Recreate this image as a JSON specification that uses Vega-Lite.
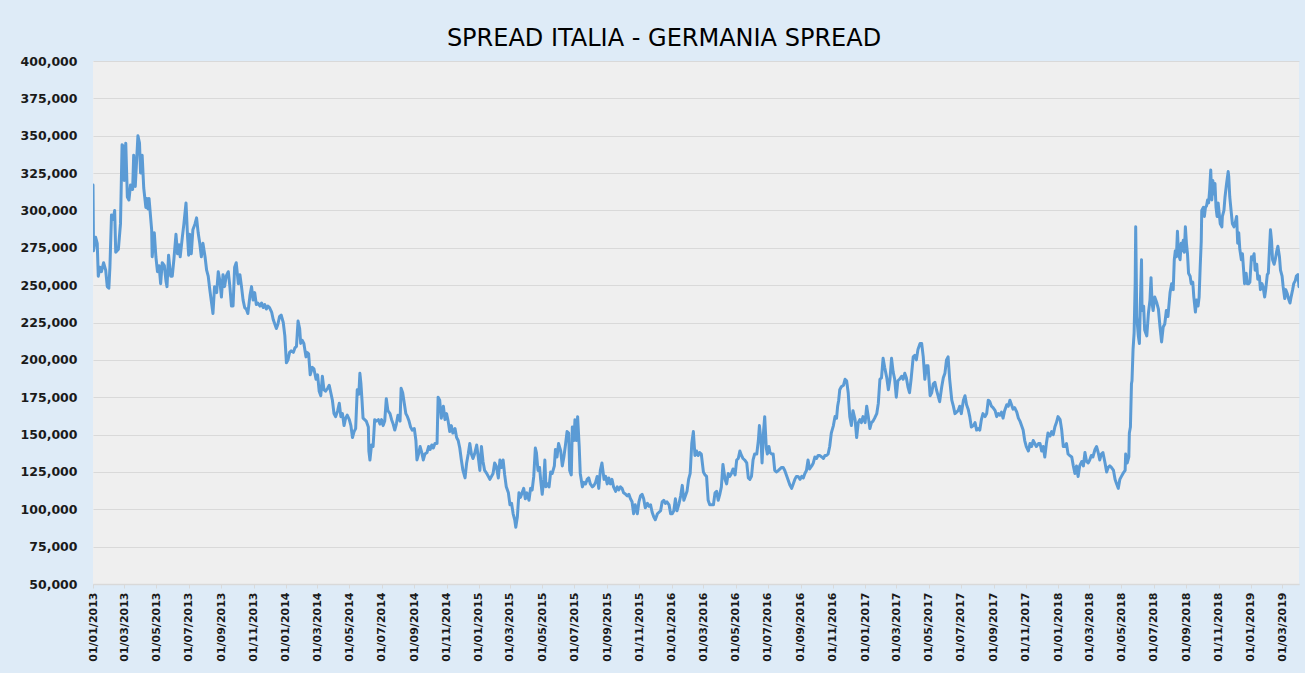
{
"$schema": "https://vega.github.io/schema/vega-lite/v6.json",
"width": 1206,
"height": 523,
"autosize": {"type": "none"},
"padding": {"left": 93, "top": 61, "right": 6, "bottom": 89},
"background": "#DEEBF7",
"title": {"text": "SPREAD ITALIA - GERMANIA SPREAD", "anchor": "middle", "dx": -32, "dy": 23, "font": "DejaVu Sans", "fontSize": 24, "fontWeight": "normal", "color": "#000000", "baseline": "alphabetic", "offset": 8},
"config": {"view": {"fill": "#EFEFEF", "stroke": null}},
"data": {"values": [
{"d":"2013-01-01","v":317},{"d":"2013-01-02","v":273},{"d":"2013-01-06","v":282},{"d":"2013-01-09","v":278},{"d":"2013-01-11","v":256},{"d":"2013-01-14","v":262},{"d":"2013-01-17","v":259},{"d":"2013-01-21","v":265},{"d":"2013-01-25","v":260},{"d":"2013-01-28","v":249},{"d":"2013-01-31","v":248},
{"d":"2013-02-02","v":262},{"d":"2013-02-05","v":297},{"d":"2013-02-08","v":294},{"d":"2013-02-11","v":300},{"d":"2013-02-13","v":272},{"d":"2013-02-18","v":274},{"d":"2013-02-22","v":291},{"d":"2013-02-25","v":344},{"d":"2013-02-27","v":343},
{"d":"2013-03-01","v":320},{"d":"2013-03-04","v":345},{"d":"2013-03-07","v":309},{"d":"2013-03-10","v":307},{"d":"2013-03-13","v":317},{"d":"2013-03-17","v":314},{"d":"2013-03-19","v":337},{"d":"2013-03-22","v":316},{"d":"2013-03-27","v":350},{"d":"2013-03-30","v":345},
{"d":"2013-04-01","v":325},{"d":"2013-04-04","v":337},{"d":"2013-04-07","v":315},{"d":"2013-04-11","v":302},{"d":"2013-04-13","v":308},{"d":"2013-04-15","v":301},{"d":"2013-04-17","v":308},{"d":"2013-04-22","v":287},{"d":"2013-04-23","v":269},{"d":"2013-04-27","v":285},{"d":"2013-04-30","v":269},
{"d":"2013-05-03","v":259},{"d":"2013-05-06","v":263},{"d":"2013-05-09","v":251},{"d":"2013-05-12","v":265},{"d":"2013-05-16","v":263},{"d":"2013-05-19","v":253},{"d":"2013-05-21","v":249},{"d":"2013-05-24","v":270},{"d":"2013-05-28","v":256},{"d":"2013-05-31","v":256},
{"d":"2013-06-03","v":267},{"d":"2013-06-07","v":284},{"d":"2013-06-10","v":271},{"d":"2013-06-13","v":277},{"d":"2013-06-15","v":269},{"d":"2013-06-19","v":282},{"d":"2013-06-22","v":291},{"d":"2013-06-26","v":305},{"d":"2013-06-29","v":282},
{"d":"2013-07-01","v":270},{"d":"2013-07-03","v":284},{"d":"2013-07-06","v":271},{"d":"2013-07-09","v":287},{"d":"2013-07-13","v":291},{"d":"2013-07-16","v":295},{"d":"2013-07-19","v":285},{"d":"2013-07-22","v":278},{"d":"2013-07-25","v":269},{"d":"2013-07-28","v":278},
{"d":"2013-08-01","v":269},{"d":"2013-08-04","v":260},{"d":"2013-08-07","v":256},{"d":"2013-08-10","v":247},{"d":"2013-08-13","v":239},{"d":"2013-08-16","v":231},{"d":"2013-08-19","v":249},{"d":"2013-08-23","v":245},{"d":"2013-08-26","v":259},{"d":"2013-08-29","v":253},
{"d":"2013-09-01","v":242},{"d":"2013-09-04","v":257},{"d":"2013-09-07","v":249},{"d":"2013-09-10","v":256},{"d":"2013-09-14","v":259},{"d":"2013-09-17","v":249},{"d":"2013-09-20","v":236},{"d":"2013-09-23","v":236},{"d":"2013-09-26","v":262},{"d":"2013-09-29","v":265},
{"d":"2013-10-03","v":251},{"d":"2013-10-06","v":257},{"d":"2013-10-09","v":249},{"d":"2013-10-12","v":240},{"d":"2013-10-15","v":235},{"d":"2013-10-18","v":234},{"d":"2013-10-21","v":231},{"d":"2013-10-25","v":243},{"d":"2013-10-28","v":249},{"d":"2013-10-31","v":240},
{"d":"2013-11-03","v":245},{"d":"2013-11-06","v":237},{"d":"2013-11-09","v":238},{"d":"2013-11-13","v":236},{"d":"2013-11-16","v":238},{"d":"2013-11-19","v":235},{"d":"2013-11-22","v":237},{"d":"2013-11-25","v":234},{"d":"2013-11-28","v":236},
{"d":"2013-12-01","v":235},{"d":"2013-12-05","v":232},{"d":"2013-12-08","v":227},{"d":"2013-12-11","v":224},{"d":"2013-12-14","v":221},{"d":"2013-12-17","v":224},{"d":"2013-12-20","v":229},{"d":"2013-12-23","v":230},{"d":"2013-12-27","v":225},{"d":"2013-12-30","v":216},
{"d":"2014-01-02","v":198},{"d":"2014-01-05","v":200},{"d":"2014-01-08","v":205},{"d":"2014-01-11","v":206},{"d":"2014-01-15","v":205},{"d":"2014-01-18","v":208},{"d":"2014-01-21","v":209},{"d":"2014-01-24","v":226},{"d":"2014-01-27","v":221},{"d":"2014-01-29","v":211},
{"d":"2014-02-01","v":213},{"d":"2014-02-04","v":211},{"d":"2014-02-08","v":202},{"d":"2014-02-10","v":205},{"d":"2014-02-13","v":204},{"d":"2014-02-16","v":190},{"d":"2014-02-20","v":195},{"d":"2014-02-23","v":194},{"d":"2014-02-27","v":187},
{"d":"2014-03-02","v":190},{"d":"2014-03-05","v":179},{"d":"2014-03-08","v":176},{"d":"2014-03-11","v":189},{"d":"2014-03-14","v":180},{"d":"2014-03-17","v":179},{"d":"2014-03-21","v":181},{"d":"2014-03-24","v":183},{"d":"2014-03-27","v":178},{"d":"2014-03-30","v":173},
{"d":"2014-04-02","v":164},{"d":"2014-04-05","v":162},{"d":"2014-04-09","v":166},{"d":"2014-04-12","v":171},{"d":"2014-04-15","v":162},{"d":"2014-04-18","v":164},{"d":"2014-04-21","v":156},{"d":"2014-04-24","v":161},{"d":"2014-04-27","v":163},
{"d":"2014-05-01","v":160},{"d":"2014-05-04","v":156},{"d":"2014-05-07","v":148},{"d":"2014-05-10","v":152},{"d":"2014-05-13","v":154},{"d":"2014-05-16","v":180},{"d":"2014-05-19","v":177},{"d":"2014-05-21","v":191},{"d":"2014-05-23","v":184},{"d":"2014-05-25","v":173},{"d":"2014-05-27","v":161},{"d":"2014-05-30","v":160},
{"d":"2014-06-02","v":159},{"d":"2014-06-06","v":155},{"d":"2014-06-07","v":139},{"d":"2014-06-09","v":133},{"d":"2014-06-12","v":143},{"d":"2014-06-15","v":142},{"d":"2014-06-18","v":160},{"d":"2014-06-21","v":159},{"d":"2014-06-25","v":160},{"d":"2014-06-28","v":157},
{"d":"2014-07-01","v":160},{"d":"2014-07-04","v":156},{"d":"2014-07-07","v":159},{"d":"2014-07-10","v":174},{"d":"2014-07-13","v":166},{"d":"2014-07-17","v":164},{"d":"2014-07-20","v":160},{"d":"2014-07-23","v":157},{"d":"2014-07-26","v":153},{"d":"2014-07-29","v":157},
{"d":"2014-08-01","v":163},{"d":"2014-08-05","v":159},{"d":"2014-08-07","v":181},{"d":"2014-08-10","v":178},{"d":"2014-08-13","v":171},{"d":"2014-08-16","v":164},{"d":"2014-08-19","v":162},{"d":"2014-08-22","v":159},{"d":"2014-08-25","v":155},{"d":"2014-08-28","v":153},
{"d":"2014-09-01","v":154},{"d":"2014-09-04","v":146},{"d":"2014-09-06","v":133},{"d":"2014-09-09","v":137},{"d":"2014-09-12","v":142},{"d":"2014-09-15","v":138},{"d":"2014-09-18","v":133},{"d":"2014-09-21","v":137},{"d":"2014-09-25","v":138},{"d":"2014-09-28","v":142},
{"d":"2014-10-01","v":140},{"d":"2014-10-04","v":143},{"d":"2014-10-07","v":141},{"d":"2014-10-10","v":144},{"d":"2014-10-14","v":144},{"d":"2014-10-16","v":175},{"d":"2014-10-19","v":173},{"d":"2014-10-22","v":161},{"d":"2014-10-26","v":169},{"d":"2014-10-29","v":160},
{"d":"2014-11-01","v":164},{"d":"2014-11-04","v":159},{"d":"2014-11-07","v":152},{"d":"2014-11-10","v":156},{"d":"2014-11-13","v":151},{"d":"2014-11-17","v":154},{"d":"2014-11-20","v":148},{"d":"2014-11-23","v":146},{"d":"2014-11-26","v":141},{"d":"2014-11-29","v":133},
{"d":"2014-12-02","v":126},{"d":"2014-12-06","v":121},{"d":"2014-12-09","v":131},{"d":"2014-12-12","v":137},{"d":"2014-12-15","v":144},{"d":"2014-12-18","v":137},{"d":"2014-12-21","v":134},{"d":"2014-12-24","v":137},{"d":"2014-12-28","v":143},{"d":"2014-12-31","v":135},
{"d":"2015-01-03","v":126},{"d":"2015-01-06","v":142},{"d":"2015-01-09","v":132},{"d":"2015-01-12","v":126},{"d":"2015-01-16","v":124},{"d":"2015-01-19","v":122},{"d":"2015-01-22","v":120},{"d":"2015-01-28","v":124},{"d":"2015-01-31","v":131},
{"d":"2015-02-03","v":129},{"d":"2015-02-07","v":121},{"d":"2015-02-10","v":133},{"d":"2015-02-13","v":128},{"d":"2015-02-16","v":133},{"d":"2015-02-19","v":123},{"d":"2015-02-22","v":115},{"d":"2015-02-26","v":111},
{"d":"2015-03-01","v":103},{"d":"2015-03-04","v":104},{"d":"2015-03-07","v":97},{"d":"2015-03-10","v":93},{"d":"2015-03-12","v":88},{"d":"2015-03-15","v":95},{"d":"2015-03-18","v":111},{"d":"2015-03-21","v":108},{"d":"2015-03-24","v":111},{"d":"2015-03-27","v":114},{"d":"2015-03-30","v":107},
{"d":"2015-04-02","v":111},{"d":"2015-04-06","v":106},{"d":"2015-04-09","v":114},{"d":"2015-04-12","v":113},{"d":"2015-04-15","v":122},{"d":"2015-04-18","v":141},{"d":"2015-04-20","v":138},{"d":"2015-04-23","v":126},{"d":"2015-04-26","v":128},{"d":"2015-04-28","v":120},
{"d":"2015-05-01","v":110},{"d":"2015-05-04","v":120},{"d":"2015-05-06","v":133},{"d":"2015-05-08","v":115},{"d":"2015-05-11","v":117},{"d":"2015-05-14","v":115},{"d":"2015-05-17","v":125},{"d":"2015-05-20","v":124},{"d":"2015-05-24","v":129},{"d":"2015-05-26","v":140},{"d":"2015-05-29","v":135},
{"d":"2015-06-01","v":144},{"d":"2015-06-05","v":139},{"d":"2015-06-08","v":129},{"d":"2015-06-11","v":135},{"d":"2015-06-14","v":143},{"d":"2015-06-17","v":152},{"d":"2015-06-20","v":151},{"d":"2015-06-22","v":126},{"d":"2015-06-25","v":123},{"d":"2015-06-27","v":155},{"d":"2015-06-30","v":146},
{"d":"2015-07-02","v":160},{"d":"2015-07-05","v":146},{"d":"2015-07-07","v":162},{"d":"2015-07-10","v":142},{"d":"2015-07-12","v":124},{"d":"2015-07-16","v":115},{"d":"2015-07-19","v":118},{"d":"2015-07-22","v":117},{"d":"2015-07-25","v":120},{"d":"2015-07-28","v":121},{"d":"2015-07-31","v":117},
{"d":"2015-08-04","v":115},{"d":"2015-08-07","v":116},{"d":"2015-08-10","v":118},{"d":"2015-08-13","v":122},{"d":"2015-08-16","v":114},{"d":"2015-08-19","v":126},{"d":"2015-08-22","v":131},{"d":"2015-08-26","v":120},{"d":"2015-08-29","v":122},
{"d":"2015-09-01","v":117},{"d":"2015-09-04","v":121},{"d":"2015-09-07","v":117},{"d":"2015-09-10","v":120},{"d":"2015-09-13","v":115},{"d":"2015-09-17","v":112},{"d":"2015-09-20","v":115},{"d":"2015-09-23","v":113},{"d":"2015-09-26","v":115},{"d":"2015-09-29","v":114},
{"d":"2015-10-02","v":111},{"d":"2015-10-06","v":110},{"d":"2015-10-09","v":109},{"d":"2015-10-12","v":110},{"d":"2015-10-15","v":107},{"d":"2015-10-18","v":105},{"d":"2015-10-21","v":97},{"d":"2015-10-24","v":103},{"d":"2015-10-28","v":97},{"d":"2015-10-31","v":105},
{"d":"2015-11-03","v":109},{"d":"2015-11-06","v":110},{"d":"2015-11-09","v":107},{"d":"2015-11-12","v":101},{"d":"2015-11-16","v":104},{"d":"2015-11-19","v":102},{"d":"2015-11-22","v":103},{"d":"2015-11-25","v":98},{"d":"2015-11-28","v":95},
{"d":"2015-12-01","v":93},{"d":"2015-12-05","v":97},{"d":"2015-12-08","v":98},{"d":"2015-12-11","v":99},{"d":"2015-12-14","v":105},{"d":"2015-12-17","v":106},{"d":"2015-12-20","v":104},{"d":"2015-12-23","v":105},{"d":"2015-12-27","v":103},{"d":"2015-12-30","v":97},
{"d":"2016-01-02","v":97},{"d":"2016-01-05","v":99},{"d":"2016-01-08","v":107},{"d":"2016-01-11","v":99},{"d":"2016-01-15","v":104},{"d":"2016-01-18","v":109},{"d":"2016-01-21","v":116},{"d":"2016-01-24","v":106},{"d":"2016-01-27","v":109},{"d":"2016-01-30","v":112},
{"d":"2016-02-02","v":120},{"d":"2016-02-05","v":124},{"d":"2016-02-08","v":144},{"d":"2016-02-11","v":152},{"d":"2016-02-14","v":136},{"d":"2016-02-17","v":139},{"d":"2016-02-20","v":136},{"d":"2016-02-23","v":138},{"d":"2016-02-26","v":137},
{"d":"2016-03-01","v":125},{"d":"2016-03-04","v":123},{"d":"2016-03-07","v":122},{"d":"2016-03-10","v":106},{"d":"2016-03-13","v":103},{"d":"2016-03-16","v":103},{"d":"2016-03-20","v":103},{"d":"2016-03-23","v":111},{"d":"2016-03-26","v":112},{"d":"2016-03-29","v":106},
{"d":"2016-04-01","v":110},{"d":"2016-04-04","v":115},{"d":"2016-04-07","v":130},{"d":"2016-04-11","v":120},{"d":"2016-04-14","v":117},{"d":"2016-04-17","v":124},{"d":"2016-04-20","v":122},{"d":"2016-04-23","v":124},{"d":"2016-04-26","v":127},{"d":"2016-04-30","v":123},
{"d":"2016-05-03","v":133},{"d":"2016-05-06","v":134},{"d":"2016-05-09","v":139},{"d":"2016-05-12","v":136},{"d":"2016-05-15","v":134},{"d":"2016-05-18","v":133},{"d":"2016-05-22","v":131},{"d":"2016-05-25","v":121},{"d":"2016-05-28","v":120},{"d":"2016-05-31","v":122},
{"d":"2016-06-03","v":133},{"d":"2016-06-06","v":137},{"d":"2016-06-10","v":137},{"d":"2016-06-13","v":146},{"d":"2016-06-15","v":156},{"d":"2016-06-18","v":146},{"d":"2016-06-20","v":131},{"d":"2016-06-23","v":153},{"d":"2016-06-25","v":162},{"d":"2016-06-28","v":141},{"d":"2016-06-30","v":137},
{"d":"2016-07-03","v":142},{"d":"2016-07-05","v":138},{"d":"2016-07-08","v":137},{"d":"2016-07-11","v":137},{"d":"2016-07-14","v":126},{"d":"2016-07-17","v":125},{"d":"2016-07-21","v":126},{"d":"2016-07-24","v":127},{"d":"2016-07-27","v":128},{"d":"2016-07-30","v":128},
{"d":"2016-08-02","v":126},{"d":"2016-08-05","v":123},{"d":"2016-08-08","v":120},{"d":"2016-08-12","v":116},{"d":"2016-08-15","v":114},{"d":"2016-08-18","v":117},{"d":"2016-08-21","v":120},{"d":"2016-08-24","v":122},{"d":"2016-08-27","v":122},{"d":"2016-08-31","v":120},
{"d":"2016-09-03","v":122},{"d":"2016-09-06","v":121},{"d":"2016-09-09","v":124},{"d":"2016-09-12","v":126},{"d":"2016-09-15","v":133},{"d":"2016-09-18","v":127},{"d":"2016-09-22","v":129},{"d":"2016-09-25","v":131},{"d":"2016-09-28","v":135},
{"d":"2016-10-01","v":134},{"d":"2016-10-04","v":136},{"d":"2016-10-07","v":136},{"d":"2016-10-11","v":135},{"d":"2016-10-14","v":134},{"d":"2016-10-17","v":136},{"d":"2016-10-20","v":136},{"d":"2016-10-23","v":137},{"d":"2016-10-26","v":142},{"d":"2016-10-29","v":151},
{"d":"2016-11-02","v":156},{"d":"2016-11-05","v":162},{"d":"2016-11-08","v":161},{"d":"2016-11-10","v":169},{"d":"2016-11-12","v":173},{"d":"2016-11-14","v":180},{"d":"2016-11-17","v":182},{"d":"2016-11-21","v":183},{"d":"2016-11-24","v":187},{"d":"2016-11-27","v":186},{"d":"2016-11-30","v":178},
{"d":"2016-12-03","v":162},{"d":"2016-12-06","v":156},{"d":"2016-12-09","v":166},{"d":"2016-12-13","v":160},{"d":"2016-12-16","v":148},{"d":"2016-12-19","v":158},{"d":"2016-12-22","v":160},{"d":"2016-12-25","v":158},{"d":"2016-12-28","v":162},
{"d":"2017-01-01","v":158},{"d":"2017-01-04","v":169},{"d":"2017-01-07","v":162},{"d":"2017-01-10","v":154},{"d":"2017-01-13","v":158},{"d":"2017-01-16","v":159},{"d":"2017-01-19","v":161},{"d":"2017-01-23","v":164},{"d":"2017-01-26","v":171},{"d":"2017-01-29","v":187},
{"d":"2017-02-01","v":188},{"d":"2017-02-04","v":201},{"d":"2017-02-07","v":195},{"d":"2017-02-11","v":188},{"d":"2017-02-14","v":180},{"d":"2017-02-17","v":187},{"d":"2017-02-20","v":201},{"d":"2017-02-23","v":192},{"d":"2017-02-26","v":187},
{"d":"2017-03-01","v":175},{"d":"2017-03-04","v":186},{"d":"2017-03-07","v":187},{"d":"2017-03-11","v":189},{"d":"2017-03-14","v":187},{"d":"2017-03-17","v":191},{"d":"2017-03-20","v":188},{"d":"2017-03-23","v":182},{"d":"2017-03-26","v":178},{"d":"2017-03-29","v":187},
{"d":"2017-04-02","v":202},{"d":"2017-04-05","v":203},{"d":"2017-04-08","v":200},{"d":"2017-04-11","v":207},{"d":"2017-04-15","v":211},{"d":"2017-04-18","v":211},{"d":"2017-04-21","v":202},{"d":"2017-04-24","v":187},{"d":"2017-04-27","v":196},{"d":"2017-04-30","v":196},
{"d":"2017-05-04","v":176},{"d":"2017-05-07","v":178},{"d":"2017-05-10","v":184},{"d":"2017-05-13","v":185},{"d":"2017-05-16","v":180},{"d":"2017-05-19","v":176},{"d":"2017-05-22","v":172},{"d":"2017-05-26","v":182},{"d":"2017-05-29","v":188},
{"d":"2017-06-01","v":191},{"d":"2017-06-04","v":200},{"d":"2017-06-07","v":202},{"d":"2017-06-10","v":187},{"d":"2017-06-14","v":173},{"d":"2017-06-17","v":169},{"d":"2017-06-20","v":164},{"d":"2017-06-23","v":165},{"d":"2017-06-26","v":166},{"d":"2017-06-29","v":169},
{"d":"2017-07-02","v":164},{"d":"2017-07-06","v":173},{"d":"2017-07-09","v":176},{"d":"2017-07-12","v":170},{"d":"2017-07-15","v":167},{"d":"2017-07-18","v":162},{"d":"2017-07-21","v":155},{"d":"2017-07-25","v":156},{"d":"2017-07-28","v":158},{"d":"2017-07-31","v":153},
{"d":"2017-08-03","v":154},{"d":"2017-08-06","v":153},{"d":"2017-08-09","v":160},{"d":"2017-08-12","v":164},{"d":"2017-08-16","v":162},{"d":"2017-08-19","v":164},{"d":"2017-08-22","v":173},{"d":"2017-08-25","v":172},{"d":"2017-08-28","v":169},{"d":"2017-08-31","v":168},
{"d":"2017-09-04","v":166},{"d":"2017-09-07","v":162},{"d":"2017-09-10","v":164},{"d":"2017-09-13","v":163},{"d":"2017-09-16","v":165},{"d":"2017-09-19","v":161},{"d":"2017-09-22","v":166},{"d":"2017-09-26","v":170},{"d":"2017-09-29","v":169},
{"d":"2017-10-02","v":173},{"d":"2017-10-05","v":170},{"d":"2017-10-08","v":167},{"d":"2017-10-11","v":168},{"d":"2017-10-15","v":165},{"d":"2017-10-18","v":161},{"d":"2017-10-21","v":159},{"d":"2017-10-24","v":156},{"d":"2017-10-27","v":153},{"d":"2017-10-30","v":146},
{"d":"2017-11-02","v":142},{"d":"2017-11-06","v":139},{"d":"2017-11-09","v":144},{"d":"2017-11-12","v":142},{"d":"2017-11-15","v":146},{"d":"2017-11-18","v":144},{"d":"2017-11-21","v":142},{"d":"2017-11-25","v":144},{"d":"2017-11-28","v":144},
{"d":"2017-12-01","v":139},{"d":"2017-12-04","v":142},{"d":"2017-12-07","v":135},{"d":"2017-12-10","v":144},{"d":"2017-12-13","v":151},{"d":"2017-12-17","v":149},{"d":"2017-12-20","v":152},{"d":"2017-12-23","v":150},{"d":"2017-12-26","v":155},{"d":"2017-12-29","v":158},
{"d":"2018-01-01","v":162},{"d":"2018-01-05","v":160},{"d":"2018-01-08","v":153},{"d":"2018-01-11","v":142},{"d":"2018-01-14","v":142},{"d":"2018-01-17","v":144},{"d":"2018-01-20","v":137},{"d":"2018-01-23","v":136},{"d":"2018-01-27","v":135},{"d":"2018-01-30","v":129},
{"d":"2018-02-02","v":124},{"d":"2018-02-05","v":129},{"d":"2018-02-08","v":122},{"d":"2018-02-11","v":129},{"d":"2018-02-15","v":132},{"d":"2018-02-18","v":129},{"d":"2018-02-21","v":138},{"d":"2018-02-24","v":132},{"d":"2018-02-27","v":131},
{"d":"2018-03-02","v":133},{"d":"2018-03-05","v":136},{"d":"2018-03-08","v":135},{"d":"2018-03-12","v":140},{"d":"2018-03-15","v":142},{"d":"2018-03-18","v":138},{"d":"2018-03-21","v":133},{"d":"2018-03-24","v":137},{"d":"2018-03-27","v":138},{"d":"2018-03-31","v":131},
{"d":"2018-04-03","v":125},{"d":"2018-04-06","v":128},{"d":"2018-04-09","v":129},{"d":"2018-04-12","v":128},{"d":"2018-04-16","v":126},{"d":"2018-04-19","v":120},{"d":"2018-04-22","v":117},{"d":"2018-04-25","v":114},{"d":"2018-04-28","v":120},
{"d":"2018-05-01","v":122},{"d":"2018-05-04","v":124},{"d":"2018-05-08","v":126},{"d":"2018-05-09","v":137},{"d":"2018-05-12","v":131},{"d":"2018-05-15","v":135},{"d":"2018-05-16","v":151},{"d":"2018-05-18","v":155},{"d":"2018-05-20","v":184},{"d":"2018-05-21","v":186},{"d":"2018-05-23","v":207},{"d":"2018-05-25","v":218},{"d":"2018-05-27","v":251},{"d":"2018-05-28","v":289},{"d":"2018-05-30","v":229},
{"d":"2018-06-02","v":216},{"d":"2018-06-04","v":211},{"d":"2018-06-06","v":240},{"d":"2018-06-08","v":267},{"d":"2018-06-09","v":233},{"d":"2018-06-12","v":236},{"d":"2018-06-14","v":220},{"d":"2018-06-18","v":216},{"d":"2018-06-21","v":231},{"d":"2018-06-24","v":240},{"d":"2018-06-26","v":255},{"d":"2018-06-28","v":238},{"d":"2018-06-30","v":233},
{"d":"2018-07-03","v":242},{"d":"2018-07-07","v":238},{"d":"2018-07-10","v":234},{"d":"2018-07-13","v":222},{"d":"2018-07-16","v":212},{"d":"2018-07-19","v":222},{"d":"2018-07-22","v":224},{"d":"2018-07-25","v":233},{"d":"2018-07-28","v":229},
{"d":"2018-08-01","v":245},{"d":"2018-08-04","v":251},{"d":"2018-08-07","v":247},{"d":"2018-08-09","v":267},{"d":"2018-08-11","v":273},{"d":"2018-08-13","v":269},{"d":"2018-08-15","v":286},{"d":"2018-08-17","v":271},{"d":"2018-08-20","v":267},{"d":"2018-08-22","v":278},{"d":"2018-08-24","v":273},{"d":"2018-08-26","v":280},{"d":"2018-08-28","v":272},{"d":"2018-08-30","v":289},
{"d":"2018-09-01","v":278},{"d":"2018-09-03","v":271},{"d":"2018-09-05","v":258},{"d":"2018-09-08","v":256},{"d":"2018-09-10","v":251},{"d":"2018-09-13","v":252},{"d":"2018-09-15","v":242},{"d":"2018-09-18","v":232},{"d":"2018-09-20","v":240},{"d":"2018-09-23","v":236},{"d":"2018-09-25","v":242},{"d":"2018-09-27","v":262},{"d":"2018-09-29","v":279},{"d":"2018-09-30","v":300},
{"d":"2018-10-03","v":302},{"d":"2018-10-05","v":296},{"d":"2018-10-07","v":302},{"d":"2018-10-09","v":303},{"d":"2018-10-11","v":307},{"d":"2018-10-13","v":305},{"d":"2018-10-15","v":314},{"d":"2018-10-17","v":327},{"d":"2018-10-19","v":307},{"d":"2018-10-21","v":320},{"d":"2018-10-23","v":311},{"d":"2018-10-25","v":318},{"d":"2018-10-27","v":302},{"d":"2018-10-29","v":296},{"d":"2018-10-31","v":305},
{"d":"2018-11-02","v":298},{"d":"2018-11-04","v":291},{"d":"2018-11-07","v":289},{"d":"2018-11-08","v":296},{"d":"2018-11-11","v":300},{"d":"2018-11-13","v":309},{"d":"2018-11-16","v":318},{"d":"2018-11-19","v":326},{"d":"2018-11-20","v":323},{"d":"2018-11-22","v":309},{"d":"2018-11-25","v":298},{"d":"2018-11-27","v":291},{"d":"2018-11-30","v":289},
{"d":"2018-12-02","v":291},{"d":"2018-12-05","v":296},{"d":"2018-12-07","v":278},{"d":"2018-12-09","v":285},{"d":"2018-12-11","v":274},{"d":"2018-12-14","v":267},{"d":"2018-12-16","v":271},{"d":"2018-12-18","v":261},{"d":"2018-12-20","v":251},{"d":"2018-12-23","v":258},{"d":"2018-12-25","v":251},{"d":"2018-12-28","v":251},{"d":"2018-12-30","v":252},
{"d":"2019-01-02","v":269},{"d":"2019-01-04","v":267},{"d":"2019-01-07","v":271},{"d":"2019-01-09","v":260},{"d":"2019-01-12","v":264},{"d":"2019-01-14","v":254},{"d":"2019-01-17","v":256},{"d":"2019-01-19","v":247},{"d":"2019-01-22","v":251},{"d":"2019-01-24","v":249},{"d":"2019-01-27","v":242},{"d":"2019-01-29","v":247},
{"d":"2019-02-01","v":257},{"d":"2019-02-03","v":258},{"d":"2019-02-05","v":273},{"d":"2019-02-07","v":287},{"d":"2019-02-09","v":280},{"d":"2019-02-11","v":267},{"d":"2019-02-14","v":264},{"d":"2019-02-16","v":267},{"d":"2019-02-19","v":273},{"d":"2019-02-21","v":276},{"d":"2019-02-24","v":269},{"d":"2019-02-26","v":260},
{"d":"2019-03-01","v":256},{"d":"2019-03-03","v":249},{"d":"2019-03-06","v":241},{"d":"2019-03-08","v":247},{"d":"2019-03-11","v":244},{"d":"2019-03-13","v":241},{"d":"2019-03-16","v":238},{"d":"2019-03-18","v":242},{"d":"2019-03-21","v":247},{"d":"2019-03-23","v":251},{"d":"2019-03-26","v":253},{"d":"2019-03-28","v":256},{"d":"2019-03-31","v":257},{"d":"2019-04-02","v":249}
]},
"mark": {"type": "line", "color": "#5B9BD5", "strokeWidth": 3, "strokeJoin": "round", "strokeCap": "round", "clip": true},
"encoding": {
"x": {"field": "d", "type": "temporal",
"scale": {"type": "utc", "domain": [{"year": 2013, "month": 1, "date": 1, "utc": true}, {"year": 2019, "month": 4, "date": 2, "utc": true}], "nice": false},
"axis": {"title": null, "format": "%d/%m/%Y", "labelAngle": -90, "tickCount": {"interval": "month", "step": 2}, "grid": false, "domainColor": "#D9D9D9", "domainWidth": 1.5, "tickColor": "#D9D9D9", "tickSize": 4, "labelFont": "DejaVu Sans", "labelFontWeight": "bold", "labelFontSize": 11, "labelColor": "#1a1a1a", "labelPadding": 4, "labelOverlap": false, "labelFlush": false}},
"y": {"field": "v", "type": "quantitative",
"scale": {"domain": [50, 400], "nice": false, "zero": false},
"axis": {"title": null, "values": [50, 75, 100, 125, 150, 175, 200, 225, 250, 275, 300, 325, 350, 375, 400], "labelExpr": "replace(format(datum.value, '.3f'), '.', ',')", "grid": true, "gridColor": "#D9D9D9", "gridWidth": 1, "domain": false, "ticks": false, "labelPadding": 16, "labelFont": "DejaVu Sans", "labelFontWeight": "bold", "labelFontSize": 12.5, "labelColor": "#1a1a1a"}}
}
}
